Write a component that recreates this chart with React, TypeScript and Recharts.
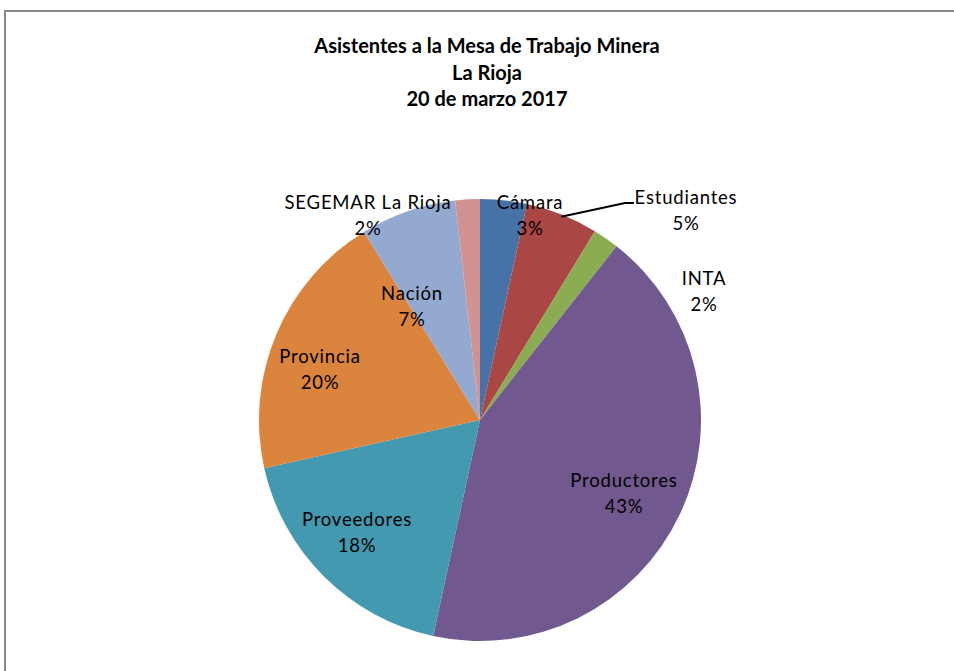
import React from "react";
import { PieChart, Pie, Cell } from "recharts";

const categories = [
  "Cámara",
  "Estudiantes",
  "INTA",
  "Productores",
  "Proveedores",
  "Provincia",
  "Nación",
  "SEGEMAR La Rioja",
];
const shares = [3.4, 5.3, 1.9, 42.8, 18.1, 19.7, 7.0, 1.8];
const colors = ["#4672A8", "#AA4644", "#8BAC50", "#71588F", "#4299B0", "#DB843D", "#93A9CF", "#D09392"];
const titleLines = ["Asistentes a la Mesa de Trabajo Minera", "La Rioja", "20 de marzo 2017"];

// label block offsets relative to pie centre (layout only)
const labelOffsets: [number, number][] = [
  [50, -205],
  [206, -210],
  [224, -129],
  [144, 73],
  [-123, 112],
  [-160, -51],
  [-68, -114],
  [-112, -205],
];
const leaderIndex = 1;

const data = categories.map((name, i) => ({ name, value: shares[i] }));

const W = 954;
const H = 671;
const CX = 480;
const CY = 420;
const R = 221;
const RAD = Math.PI / 180;
const FONT = "Lato, 'Noto Sans', sans-serif";

const renderLabel = (props: any) => {
  const { index, percent, name, midAngle } = props;
  const cx = typeof props.cx === "number" ? props.cx : CX;
  const cy = typeof props.cy === "number" ? props.cy : CY;
  const outer = typeof props.outerRadius === "number" ? props.outerRadius : R;
  const [dx, dy] = labelOffsets[index];
  const lx = cx + dx;
  const ly = cy + dy;
  const pct = `${Math.round(percent * 100)}%`;
  let line = null;
  if (index === leaderIndex) {
    const sx = cx + outer * 0.99 * Math.cos(-midAngle * RAD);
    const sy = cy + outer * 0.99 * Math.sin(-midAngle * RAD);
    line = (
      <polyline
        points={`${sx},${sy} ${lx - 61},${ly - 7} ${lx - 52},${ly - 7}`}
        fill="none"
        stroke="#000"
        strokeWidth={2}
      />
    );
  }
  return (
    <g key={`lbl-${index}`}>
      {line}
      <text x={lx} y={ly - 13} textAnchor="middle" dominantBaseline="central" fill="#000" fontFamily={FONT} fontSize={18.5} letterSpacing={0.8}>
        {name}
      </text>
      <text x={lx} y={ly + 13} textAnchor="middle" dominantBaseline="central" fill="#000" fontFamily={FONT} fontSize={18.5} letterSpacing={0.8}>
        {pct}
      </text>
    </g>
  );
};

export default function App() {
  return (
    <div style={{ position: "absolute", left: 0, top: 0, width: W, height: H, overflow: "hidden", background: "#fff" }}>
      <div
        style={{
          position: "absolute",
          left: 4,
          top: 10,
          width: W + 20,
          height: H + 20,
          border: "2px solid #878787",
          boxSizing: "border-box",
        }}
      />
      <div
        style={{
          position: "absolute",
          left: 0,
          top: 32,
          width: 974,
          textAlign: "center",
          fontFamily: FONT,
          fontWeight: 700,
          fontSize: 20,
          lineHeight: "26.5px",
          color: "#000",
        }}
      >
        {titleLines.map((t) => (
          <div key={t}>{t}</div>
        ))}
      </div>
      <div style={{ position: "absolute", left: 0, top: 0 }}>
        <PieChart width={W} height={H} margin={{ top: 0, right: 0, bottom: 0, left: 0 }}>
          <Pie
            data={data}
            dataKey="value"
            nameKey="name"
            cx={CX}
            cy={CY}
            outerRadius={R}
            startAngle={90}
            endAngle={-270}
            stroke="none"
            label={renderLabel}
            labelLine={false}
            isAnimationActive={false}
          >
            {data.map((d, i) => (
              <Cell key={d.name} fill={colors[i]} />
            ))}
          </Pie>
        </PieChart>
      </div>
    </div>
  );
}
